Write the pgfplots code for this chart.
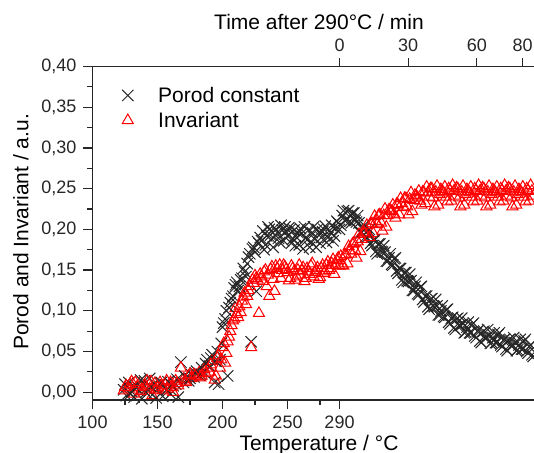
\documentclass[border=0pt]{standalone}
\usepackage{pgfplots}
\pgfplotsset{compat=1.18}
\usepackage{pgfplotstable}
\usepackage{fontspec}
\setmainfont{Liberation Sans}

\pgfplotstableread{
T P I
124 0.003 0.002
126 -0.004 0.008
128 0.012 0.004
130 0.001 0.013
132 -0.006 -0.002
134 0.008 0.006
136 0.002 0.010
138 -0.008 0.003
140 0.014 0.009
142 0.005 0.014
144 0.017 0.004
146 -0.003 -0.004
148 0.009 0.011
150 0.004 0.006
152 0.011 0.012
154 -0.005 0.002
156 0.006 0.009
158 0.013 0.004
160 -0.002 0.012
162 0.008 0.000
164 0.010 0.014
166 -0.006 0.008
168 0.037 0.030
170 0.012 0.016
172 0.018 0.012
174 0.014 0.020
176 0.022 0.017
178 0.019 0.022
180 0.026 0.019
182 0.021 0.024
184 0.030 0.020
186 0.024 0.028
188 0.040 0.030
190 0.032 0.025
192 0.046 0.038
194 0.012 0.015
196 0.050 0.042
198 0.040 0.030
200 0.080 0.055
202 0.090 0.036
204 0.020 0.062
206 0.110 0.075
208 0.118 0.088
210 0.132 0.103
212 0.125 0.092
214 0.138 0.098
216 0.152 0.117
218 0.142 0.108
220 0.166 0.125
222 0.062 0.055
224 0.178 0.134
226 0.124 0.140
228 0.183 0.097
230 0.186 0.142
232 0.175 0.148
234 0.192 0.130
236 0.200 0.118
238 0.188 0.154
240 0.202 0.124
242 0.196 0.152
244 0.184 0.156
246 0.199 0.150
248 0.203 0.154
250 0.192 0.147
252 0.200 0.140
254 0.188 0.152
256 0.180 0.138
258 0.196 0.150
260 0.201 0.144
262 0.176 0.153
264 0.190 0.140
266 0.199 0.148
268 0.185 0.155
270 0.203 0.142
272 0.178 0.150
274 0.196 0.139
276 0.190 0.152
278 0.200 0.146
280 0.184 0.156
282 0.198 0.150
284 0.205 0.158
286 0.192 0.145
288 0.210 0.162
290 0.200 0.155
292 0.217 0.156
294 0.211 0.169
296 0.222 0.158
298 0.210 0.174
300 0.220 0.182
302 0.211 0.174
304 0.217 0.185
306 0.196 0.173
308 0.200 0.196
310 0.191 0.196
312 0.199 0.194
314 0.183 0.207
316 0.187 0.195
318 0.173 0.210
320 0.182 0.217
322 0.173 0.208
324 0.180 0.217
326 0.161 0.203
328 0.165 0.224
330 0.157 0.222
332 0.164 0.219
334 0.149 0.231
336 0.152 0.218
338 0.138 0.232
340 0.147 0.238
342 0.137 0.228
344 0.145 0.237
346 0.125 0.222
348 0.130 0.242
350 0.121 0.239
352 0.129 0.235
354 0.114 0.246
356 0.118 0.232
358 0.105 0.245
360 0.114 0.250
362 0.106 0.239
364 0.114 0.246
366 0.095 0.230
368 0.100 0.249
370 0.093 0.245
372 0.101 0.240
374 0.086 0.250
376 0.091 0.235
378 0.079 0.247
380 0.090 0.251
382 0.082 0.239
384 0.091 0.246
386 0.073 0.230
388 0.080 0.249
390 0.073 0.245
392 0.083 0.240
394 0.069 0.250
396 0.075 0.235
398 0.063 0.247
400 0.074 0.251
402 0.067 0.239
404 0.077 0.246
406 0.060 0.230
408 0.067 0.249
410 0.061 0.245
412 0.071 0.240
414 0.058 0.250
416 0.064 0.235
418 0.053 0.247
420 0.064 0.251
422 0.057 0.239
424 0.067 0.246
426 0.051 0.230
428 0.058 0.249
430 0.053 0.245
432 0.063 0.240
434 0.050 0.250
436 0.056 0.235
438 0.046 0.247
440 0.057 0.251
}\datatable

\pgfplotstableread{
T P I
125 0.010 0.006
129 -0.002 0.010
133 0.006 0.012
137 0.015 0.001
141 0.000 0.007
145 0.007 0.013
149 -0.007 0.003
153 0.012 0.008
157 0.003 0.014
161 0.009 0.006
165 0.016 0.011
171 0.020 0.014
175 0.017 0.022
179 0.024 0.020
183 0.022 0.018
187 0.035 0.023
191 0.042 0.034
195 0.038 0.020
197 0.010 0.045
199 0.060 0.040
201 0.085 0.060
203 0.100 0.048
205 0.104 0.068
207 0.115 0.082
209 0.128 0.090
211 0.135 0.096
213 0.130 0.105
215 0.140 0.112
217 0.148 0.122
219 0.158 0.118
221 0.170 0.130
223 0.176 0.138
225 0.172 0.143
227 0.185 0.138
229 0.190 0.145
231 0.198 0.136
233 0.181 0.150
235 0.203 0.144
237 0.193 0.151
239 0.178 0.139
241 0.200 0.155
243 0.189 0.146
245 0.205 0.140
247 0.186 0.156
249 0.197 0.151
251 0.202 0.137
253 0.183 0.155
255 0.199 0.148
257 0.190 0.142
259 0.181 0.156
261 0.195 0.149
263 0.203 0.136
265 0.187 0.152
267 0.178 0.145
269 0.196 0.158
271 0.188 0.147
273 0.200 0.153
275 0.183 0.141
277 0.197 0.156
279 0.204 0.148
281 0.190 0.160
283 0.196 0.152
285 0.186 0.163
287 0.201 0.156
289 0.208 0.165
291 0.205 0.167
293 0.223 0.155
295 0.212 0.169
297 0.223 0.179
299 0.208 0.170
301 0.220 0.183
303 0.209 0.165
305 0.208 0.194
307 0.196 0.188
309 0.205 0.196
311 0.190 0.205
313 0.200 0.190
315 0.180 0.207
317 0.187 0.216
319 0.170 0.206
321 0.182 0.218
323 0.172 0.198
325 0.172 0.225
327 0.161 0.217
329 0.170 0.223
331 0.156 0.230
333 0.165 0.214
335 0.146 0.230
337 0.152 0.238
339 0.135 0.227
341 0.147 0.238
343 0.136 0.218
345 0.137 0.245
347 0.125 0.236
349 0.135 0.241
351 0.120 0.247
353 0.130 0.230
355 0.111 0.245
357 0.118 0.252
359 0.102 0.240
361 0.115 0.250
363 0.105 0.228
365 0.106 0.253
367 0.095 0.243
369 0.106 0.247
371 0.092 0.252
373 0.102 0.234
375 0.084 0.248
377 0.092 0.254
379 0.077 0.241
381 0.091 0.250
383 0.082 0.228
385 0.084 0.253
387 0.074 0.243
389 0.086 0.247
391 0.073 0.252
393 0.085 0.234
395 0.067 0.248
397 0.076 0.254
399 0.061 0.241
401 0.075 0.250
403 0.067 0.228
405 0.070 0.253
407 0.061 0.243
409 0.073 0.247
411 0.061 0.252
413 0.073 0.234
415 0.056 0.248
417 0.065 0.254
419 0.051 0.241
421 0.065 0.250
423 0.057 0.228
425 0.061 0.253
427 0.052 0.243
429 0.065 0.247
431 0.053 0.252
433 0.065 0.234
435 0.048 0.248
437 0.058 0.254
439 0.044 0.241
}\densetable

\begin{document}
\begin{tikzpicture}
\begin{axis}[
  at={(0pt,0pt)}, anchor=south west,
  scale only axis, width=220.75pt, height=166.75pt,
  xmin=100, xmax=439.6, ymin=-0.0095, ymax=0.40,
  axis x line*=bottom, axis y line*=left,
  axis line style={-, line width=0.6pt, black!85},
  xtick={100,150,200,250,290}, minor xtick={125,175,225,275},
  ytick={0,0.05,0.10,0.15,0.20,0.25,0.30,0.35,0.40},
  minor ytick={0.025,0.075,0.125,0.175,0.225,0.275,0.325,0.375},
  tick align=outside, major tick length=4.5pt, minor tick length=2.5pt,
  tick style={black!85, line width=0.6pt},
  yticklabel={\pgfmathprintnumber[fixed,fixed zerofill,precision=2,use comma,assume math mode=true]{\tick}},
  xticklabel={\pgfmathprintnumber[assume math mode=true]{\tick}},
  tick label style={font=\fontsize{9}{10}\selectfont, text=black!85},
  xlabel={Temperature / °C},
  ylabel={Porod and Invariant / a.u.},
  xlabel style={at={(axis description cs:0.513,-0.1529)}, anchor=base, font=\fontsize{10.5}{12}\selectfont},
  ylabel style={at={(axis description cs:-0.145,0.504)}, anchor=base, font=\fontsize{10.5}{12}\selectfont},
  legend cell align=left,
  legend image code/.code={\draw[#1] plot coordinates {(0pt,0pt)}; \path (-8pt,0pt) (8pt,0pt);},
  legend style={at={(axis description cs:0.0419,0.939)}, anchor=north west, draw=none, fill=none,
    inner sep=0pt, row sep=4.3pt, column sep=7pt,
    font=\fontsize{10.5}{12}\selectfont,
    nodes={inner sep=0pt, text height=7.6pt, text depth=0.6pt}},
]
\addplot[only marks, mark=x, mark size=4pt, black!85, mark options={line width=0.5pt}] table[x=T, y=P] {\datatable};
\addlegendentry{Porod constant}
\addplot[only marks, mark=triangle, mark size=3.2pt, red, mark options={line width=0.5pt}] table[x=T, y=I] {\datatable};
\addlegendentry{Invariant}
\addplot[forget plot, only marks, mark=x, mark size=4pt, black!85, mark options={line width=0.5pt}] table[x=T, y=P] {\densetable};
\addplot[forget plot, only marks, mark=triangle, mark size=3.2pt, red, mark options={line width=0.5pt}] table[x=T, y=I] {\densetable};
\end{axis}
\begin{axis}[
  at={(0pt,0pt)}, anchor=south west,
  scale only axis, width=220.75pt, height=166.75pt,
  xmin=100, xmax=439.6, ymin=-0.0095, ymax=0.40,
  axis x line*=top, hide y axis,
  axis line style={-, line width=0.6pt, black!85},
  xtick={290,342.8,395.6,430.8}, xticklabels={0,30,60,80},
  tick align=outside, major tick length=4pt,
  tick style={black!85, line width=0.6pt},
  tick label style={font=\fontsize{9}{10}\selectfont, text=black!85},
  xlabel={Time after 290°C / min},
  xlabel style={at={(axis description cs:0.513,1.1109)}, anchor=base, font=\fontsize{10.5}{12}\selectfont},
]
\end{axis}
\pgfresetboundingbox
\path[use as bounding box] (-46.25pt,-26.5pt) rectangle (220.75pt,200pt);
\end{tikzpicture}
\end{document}
